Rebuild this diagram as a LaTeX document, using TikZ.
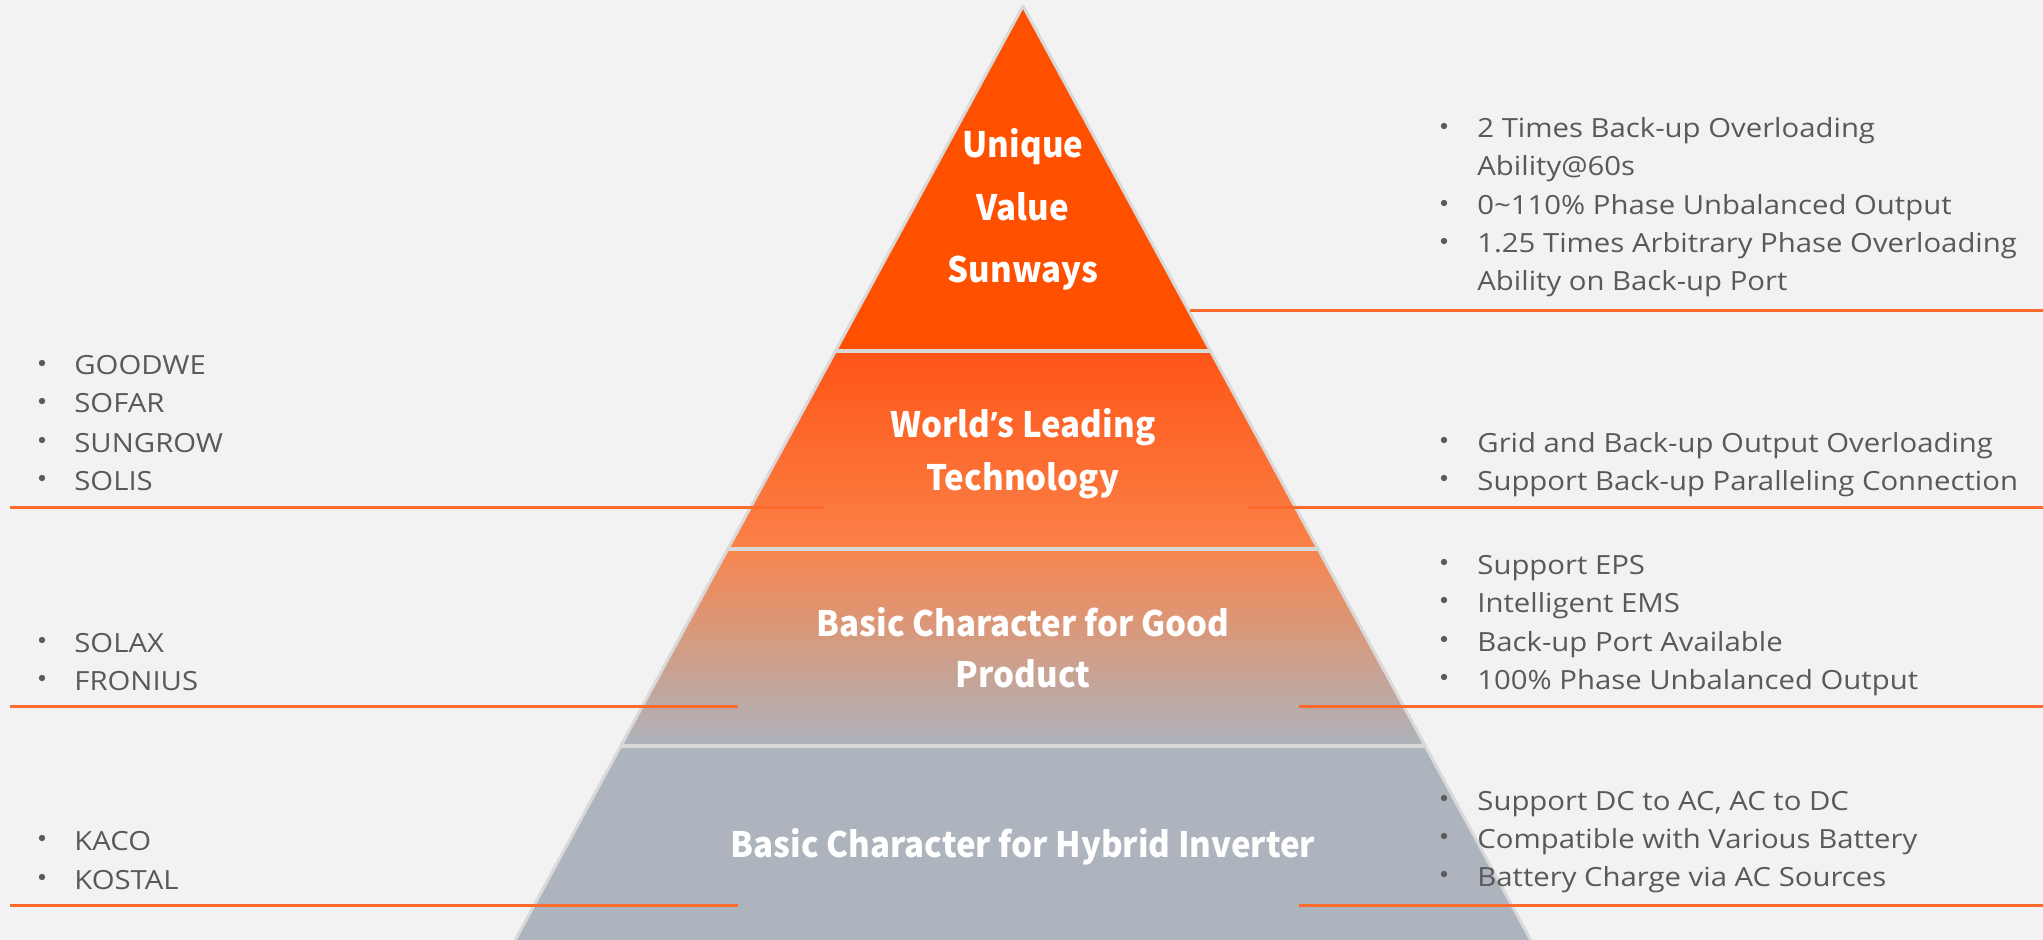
\documentclass[tikz,border=0pt]{standalone}
\usepackage{fontspec}
\setmainfont{Open Sans}[FakeStretch=1.11]
\newfontfamily\wtfont{Noto Sans CJK SC}[FakeStretch=0.945]
\newfontfamily\aposfont{Open Sans}[FakeStretch=0.945]
\definecolor{bgc}{HTML}{F2F2F2}
\definecolor{gtext}{HTML}{595959}
\definecolor{gbul}{HTML}{5A5A5A}
\definecolor{olinec}{HTML}{FD6A2D}
\definecolor{divc}{HTML}{D9D9D9}
\definecolor{tierA}{HTML}{FF5000}
\definecolor{tierBt}{HTML}{FF5516}
\definecolor{tierBb}{HTML}{FA8148}
\definecolor{tierCt}{HTML}{F7864E}
\definecolor{tierCm}{HTML}{DB9C8C}
\definecolor{tierCb}{HTML}{ADB3BC}
\definecolor{tierD}{HTML}{ADB4BE}
\begin{document}
\begin{tikzpicture}[x=0.5pt,y=-0.5pt,
  gtxt/.style={anchor=base west, inner sep=0pt, text=gtext, font=\fontsize{13.2}{15}\selectfont},
  wtxt/.style={anchor=base, inner sep=0pt, text=white, font=\wtfont\bfseries\fontsize{17.5}{21}\selectfont},
  bul/.style={circle, fill=gbul, inner sep=0pt, minimum size=3.2pt},
  oline/.style={draw=olinec, line width=1.5pt},
  divline/.style={draw=divc, line width=2pt},
  edge/.style={draw=divc, line width=1.5pt, line join=round}]
\useasboundingbox (0,0) rectangle (2043,940);
\fill[bgc] (0,0) rectangle (2043,940);
% pyramid
\coordinate (apex) at (1023,6);
\coordinate (bl) at (515.3,940);
\coordinate (br) at (1530.7,940);
\begin{scope}
  \clip (apex) -- (bl) -- (br) -- cycle;
  \fill[tierA] (400,0) rectangle (1650,351);
  \shade[top color=tierBt, bottom color=tierBb] (400,351) rectangle (1650,549);
  \shade[top color=tierCt, middle color=tierCm, bottom color=tierCb] (400,549) rectangle (1650,746);
  \fill[tierD] (400,746) rectangle (1650,945);
\end{scope}
\draw[edge] (bl) -- (apex) -- (br);
\draw[divline] (835.7,351) -- (1210.3,351);
\draw[divline] (728.2,549) -- (1317.8,549);
\draw[divline] (621.2,746) -- (1424.8,746);
% orange rules
\draw[oline] (1190,310.5) -- (2043,310.5);
\draw[oline] (10,507.5) -- (824,507.5);
\draw[oline] (1248,507.5) -- (2043,507.5);
\draw[oline] (10,706.5) -- (738,706.5);
\draw[oline] (1299,706.5) -- (2043,706.5);
\draw[oline] (10,905.5) -- (738,905.5);
\draw[oline] (1299,905.5) -- (2043,905.5);
% tier titles
\node[wtxt] (t1a) at (1023,158) {Unique};
\node[wtxt] (t1b) at (1023,221) {Value};
\node[wtxt] (t1c) at (1023,283) {Sunways};
\node[wtxt] (t2a) at (1023,438) {World{\aposfont\bfseries ’}s Leading};
\node[wtxt] (t2b) at (1023,490) {Technology};
\node[wtxt] (t3a) at (1023,636) {Basic Character for Good};
\node[wtxt] (t3b) at (1023,687) {Product};
\node[wtxt] (t4a) at (1023,857) {Basic Character for Hybrid Inverter};
% right texts
\node[bul] (rb1) at (1444,126) {};
\node[gtxt] (r1a) at (1477,138) {2 Times Back-up Overloading};
\node[gtxt] (r1b) at (1477,176) {Ability@60s};
\node[bul] (rb2) at (1444,203) {};
\node[gtxt] (r1c) at (1477,215) {0\textasciitilde110\% Phase Unbalanced Output};
\node[bul] (rb3) at (1444,241) {};
\node[gtxt] (r1d) at (1477,253) {1.25 Times Arbitrary Phase Overloading};
\node[gtxt] (r1e) at (1477,291) {Ability on Back-up Port};
\node[bul] (rb4) at (1444,440) {};
\node[gtxt] (r2a) at (1477,452) {Grid and Back-up Output Overloading};
\node[bul] (rb5) at (1444,478) {};
\node[gtxt] (r2b) at (1477,490) {Support Back-up Paralleling Connection};
\node[bul] (rb6) at (1444,562) {};
\node[gtxt] (r3a) at (1477,574) {Support EPS};
\node[bul] (rb7) at (1444,600) {};
\node[gtxt] (r3b) at (1477,612) {Intelligent EMS};
\node[bul] (rb8) at (1444,639) {};
\node[gtxt] (r3c) at (1477,651) {Back-up Port Available};
\node[bul] (rb9) at (1444,677) {};
\node[gtxt] (r3d) at (1477,689) {100\% Phase Unbalanced Output};
\node[bul] (rb10) at (1444,798) {};
\node[gtxt] (r4a) at (1477,810) {Support DC to AC, AC to DC};
\node[bul] (rb11) at (1444,836) {};
\node[gtxt] (r4b) at (1477,848) {Compatible with Various Battery};
\node[bul] (rb12) at (1444,874) {};
\node[gtxt] (r4c) at (1477,886) {Battery Charge via AC Sources};
% left texts
\node[bul] (lb1) at (42,363) {};
\node[gtxt] (l1) at (74,375) {GOODWE};
\node[bul] (lb2) at (42,401) {};
\node[gtxt] (l2) at (74,413) {SOFAR};
\node[bul] (lb3) at (42,440) {};
\node[gtxt] (l3) at (74,452) {SUNGROW};
\node[bul] (lb4) at (42,478) {};
\node[gtxt] (l4) at (74,490) {SOLIS};
\node[bul] (lb5) at (42,640) {};
\node[gtxt] (l5) at (74,652) {SOLAX};
\node[bul] (lb6) at (42,678) {};
\node[gtxt] (l6) at (74,690) {FRONIUS};
\node[bul] (lb7) at (42,838) {};
\node[gtxt] (l7) at (74,850) {KACO};
\node[bul] (lb8) at (42,877) {};
\node[gtxt] (l8) at (74,889) {KOSTAL};
\end{tikzpicture}
\end{document}
